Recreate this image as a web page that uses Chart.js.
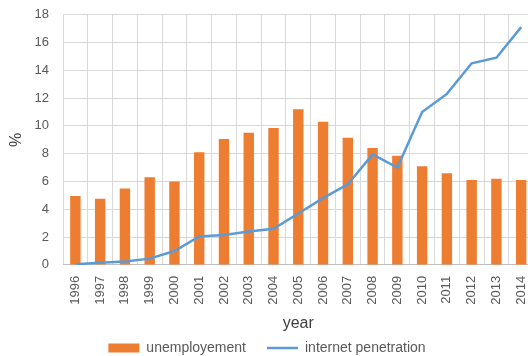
<!DOCTYPE html>
<html>
<head>
<meta charset="utf-8">
<script src="https://cdn.jsdelivr.net/npm/chart.js@4/dist/chart.umd.min.js"></script>
<style>
  html, body { margin: 0; padding: 0; background: #fff; overflow: hidden; }
  #wrap { width: 548px; height: 356px; position: relative; }
</style>
</head>
<body>
<div id="wrap"><canvas id="c"></canvas></div>
<script>
const years = ['1996','1997','1998','1999','2000','2001','2002','2003','2004','2005',
               '2006','2007','2008','2009','2010','2011','2012','2013','2014'];
const unemployment = [4.95, 4.75, 5.5, 6.3, 6.0, 8.1, 9.05, 9.5, 9.85, 11.2,
                      10.3, 9.15, 8.4, 7.85, 7.1, 6.6, 6.1, 6.2, 6.1];
const internetPenetration = [0.05, 0.15, 0.25, 0.45, 1.0, 2.05, 2.15, 2.4, 2.6, 3.7,
                             4.8, 5.8, 7.95, 7.0, 11.0, 12.3, 14.5, 14.9, 17.1];
const yTicks = [0, 2, 4, 6, 8, 10, 12, 14, 16, 18];

const FONT = "'Liberation Sans', Arial, sans-serif";
const TEXT = '#595959';
const GRID = '#d9d9d9';

// Legend keeps a wide gap between its two items but only a short strip of height.
const LEGEND_GAP = 21;
const LEGEND_STRIP = 23;
const LEGEND_LIFT = 13;
const LEGEND_NUDGE = -5;
const compactLegend = {
  id: 'compactLegend',
  beforeLayout(chart) {
    const lg = chart.legend;
    if (lg && !lg._compact) {
      const fit = lg.fit;
      lg.fit = function () { fit.call(this); this.height = LEGEND_STRIP; };
      lg._compact = true;
    }
  },
  afterLayout(chart) {
    // items are drawn one label-padding below the box top; lift the top only
    const lg = chart.legend;
    lg.top -= LEGEND_LIFT;
    lg.left += LEGEND_NUDGE;
    lg.right += LEGEND_NUDGE;
  }
};

new Chart(document.getElementById('c'), {
  data: {
    labels: years,
    datasets: [
      {
        type: 'line',
        label: 'internet penetration',
        data: internetPenetration,
        borderColor: '#5B9BD5',
        backgroundColor: '#5B9BD5',
        borderWidth: 2.5,
        pointRadius: 0,
        tension: 0,
        order: 0
      },
      {
        type: 'bar',
        label: 'unemployement',
        data: unemployment,
        backgroundColor: '#ED7D31',
        borderWidth: 0,
        categoryPercentage: 1.0,
        barPercentage: 0.42,
        order: 1
      }
    ]
  },
  options: {
    responsive: true,
    maintainAspectRatio: false,
    animation: false,
    layout: { padding: { left: 4, right: 8, top: 3, bottom: 0 } },
    scales: {
      x: {
        offset: true,
        grid: { color: GRID, offset: true, drawTicks: false, lineWidth: 1 },
        border: { color: '#bfbfbf', width: 1 },
        ticks: {
          color: TEXT, font: { family: FONT, size: 13 },
          maxRotation: 90, minRotation: 90, autoSkip: false, padding: 11
        },
        title: {
          display: true, text: 'year', color: '#404040',
          font: { family: FONT, size: 16 }, padding: { top: -2, bottom: 0 }
        }
      },
      y: {
        min: 0, max: 18,
        afterBuildTicks: (axis) => { axis.ticks = yTicks.map(v => ({ value: v })); },
        afterFit: (axis) => { axis.width = 59; },
        grid: { color: GRID, drawTicks: false, lineWidth: 1 },
        border: { display: false },
        ticks: { color: TEXT, font: { family: FONT, size: 13, lineHeight: 0.1 }, padding: 14 },
        title: {
          display: true, text: '%', color: '#404040',
          font: { family: FONT, size: 16 }, padding: { top: 3, bottom: 0 }
        }
      }
    },
    plugins: {
      legend: {
        position: 'bottom',
        reverse: true,
        labels: {
          color: TEXT,
          font: { family: FONT, size: 14 },
          usePointStyle: true,
          pointStyleWidth: 31,
          boxHeight: 9,
          padding: LEGEND_GAP,
          generateLabels: (chart) => {
            const items = Chart.defaults.plugins.legend.labels.generateLabels(chart);
            items.forEach(it => {
              const ds = chart.data.datasets[it.datasetIndex];
              if (ds.type === 'line') {
                it.pointStyle = 'line';
                it.lineWidth = 2.5;
                it.strokeStyle = '#5B9BD5';
              } else {
                it.pointStyle = 'rect';
                it.lineWidth = 0;
              }
            });
            return items;
          }
        }
      },
      tooltip: { enabled: false }
    }
  },
  plugins: [compactLegend]
});
</script>
</body>
</html>
